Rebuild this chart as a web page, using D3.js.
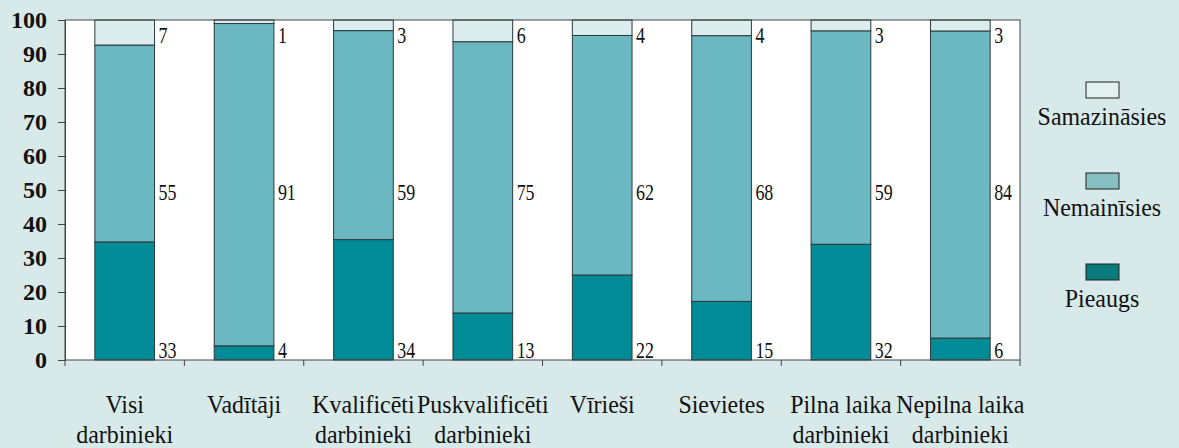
<!DOCTYPE html>
<html>
<head>
<meta charset="utf-8">
<script src="https://cdn.jsdelivr.net/npm/d3@7"></script>
</head>
<body style="margin:0;background:#d7e9e9">
<svg id="chart" width="1179" height="448" font-family="Liberation Serif" style="display:block"></svg>
<script>
var categories = [
  ["Visi", "darbinieki"],
  ["Vadītāji"],
  ["Kvalificēti", "darbinieki"],
  ["Puskvalificēti", "darbinieki"],
  ["Vīrieši"],
  ["Sievietes"],
  ["Pilna laika", "darbinieki"],
  ["Nepilna laika", "darbinieki"]
];
var pieaugs = [33, 4, 34, 13, 22, 15, 32, 6];
var nemainisies = [55, 91, 59, 75, 62, 68, 59, 84];
var samazinasies = [7, 1, 3, 6, 4, 4, 3, 3];
var seriesNames = ["Pieaugs", "Nemainīsies", "Samazināsies"];
var yTicks = [0, 10, 20, 30, 40, 50, 60, 70, 80, 90, 100];

var colors = ["#008b97", "#6bb8c2", "#dcedf0"];
var legendColors = ["#0a7a7c", "#86c0c2", "#e2f0f0"];
var FONT = "'Liberation Serif'";

var width = 1179, height = 448;
var margin = {top: 20, left: 65, right: 159, bottom: 88};
var plotW = width - margin.left - margin.right;
var plotH = height - margin.top - margin.bottom;

var rows = categories.map(function(c, i) {
  return {key: i, Pieaugs: pieaugs[i], "Nemainīsies": nemainisies[i], "Samazināsies": samazinasies[i]};
});

// bars are drawn as shares of 100, labels keep the raw numbers
var stacked = d3.stack().keys(seriesNames).offset(d3.stackOffsetExpand)(rows);

var svg = d3.select("#chart");

var g = svg.append("g")
  .attr("transform", "translate(" + margin.left + "," + margin.top + ")");

var x = d3.scaleBand().domain(d3.range(categories.length)).range([0, plotW]).padding(0);
var y = d3.scaleLinear().domain([0, 1]).range([plotH, 0]);

g.append("rect").attr("x", 0).attr("y", 0).attr("width", plotW).attr("height", plotH)
  .attr("fill", "#fff");

var barW = x.bandwidth() * 0.5;
var barOff = x.bandwidth() * 0.25;

g.selectAll("g.series")
  .data(stacked)
  .enter().append("g")
  .attr("class", "series")
  .attr("fill", function(d, i) { return colors[i]; })
  .selectAll("rect")
  .data(function(d) { return d; })
  .enter().append("rect")
  .attr("x", function(d, i) { return x(i) + barOff; })
  .attr("y", function(d) { return y(d[1]); })
  .attr("width", barW)
  .attr("height", function(d) { return y(d[0]) - y(d[1]); })
  .attr("stroke", "#2b3a3a")
  .attr("stroke-width", 1);

// value labels at fixed heights right of each bar
var labelY = [plotH - 2, 180, 23];
var seriesVals = [pieaugs, nemainisies, samazinasies];
seriesVals.forEach(function(vals, s) {
  g.selectAll("text.val" + s)
    .data(vals)
    .enter().append("text")
    .attr("class", "val" + s)
    .attr("transform", function(d, i) {
      return "translate(" + (x(i) + barOff + barW + 4) + "," + labelY[s] + ") scale(0.78,1)";
    })
    .attr("font-family", "Liberation Serif")
    .style("font-size", "23px")
    .attr("fill", "#111")
    .text(function(d) { return d; });
});

g.append("rect").attr("x", 0).attr("y", 0).attr("width", plotW).attr("height", plotH)
  .attr("fill", "none").attr("stroke", "#444").attr("stroke-width", 1);

// y axis
var yAxis = g.append("g")
  .call(d3.axisLeft(y).tickValues(yTicks.map(function(t) { return t / 100; }))
    .tickFormat(function(d) { return Math.round(d * 100); })
    .tickSize(7).tickPadding(11));
yAxis.attr("font-family", "Liberation Serif");
yAxis.select(".domain").attr("stroke", "#444");
yAxis.selectAll(".tick line").attr("stroke", "#444");
yAxis.selectAll("text")
  .attr("font-family", "Liberation Serif")
  .style("font-size", "24px").style("font-weight", "bold")
  .attr("fill", "#111").attr("dy", "0.33em");

// x axis ticks at band boundaries
g.selectAll("line.xtick")
  .data(d3.range(categories.length + 1))
  .enter().append("line")
  .attr("class", "xtick")
  .attr("x1", function(d) { return d * x.step(); })
  .attr("x2", function(d) { return d * x.step(); })
  .attr("y1", plotH).attr("y2", plotH + 6)
  .attr("stroke", "#444");

// category labels
var cat = g.selectAll("text.cat")
  .data(categories)
  .enter().append("text")
  .attr("class", "cat")
  .attr("text-anchor", "middle")
  .attr("font-family", "Liberation Serif")
  .style("font-size", "26px")
  .attr("fill", "#111")
  .attr("transform", function(d, i) {
    return "translate(" + (x(i) + x.bandwidth() / 2) + "," + (plotH + 53) + ") scale(0.92,1)";
  });
cat.selectAll("tspan")
  .data(function(d) { return d; })
  .enter().append("tspan")
  .attr("x", 0)
  .attr("dy", function(d, i) { return i === 0 ? 0 : 30; })
  .text(function(d) { return d; });

// legend
var legendOrder = [2, 1, 0];
var leg = svg.selectAll("g.legend")
  .data(legendOrder)
  .enter().append("g")
  .attr("class", "legend")
  .attr("transform", function(d, i) { return "translate(1102," + (82 + i * 91) + ")"; });
leg.append("rect")
  .attr("x", -16).attr("y", 0).attr("width", 33).attr("height", 16)
  .attr("fill", function(d) { return legendColors[d]; })
  .attr("stroke", "#222").attr("stroke-width", 1);
leg.append("text")
  .attr("text-anchor", "middle")
  .attr("transform", "translate(0,43) scale(0.92,1)")
  .attr("font-family", "Liberation Serif")
  .style("font-size", "26px")
  .attr("fill", "#111")
  .text(function(d) { return seriesNames[d]; });
</script>
</body>
</html>
